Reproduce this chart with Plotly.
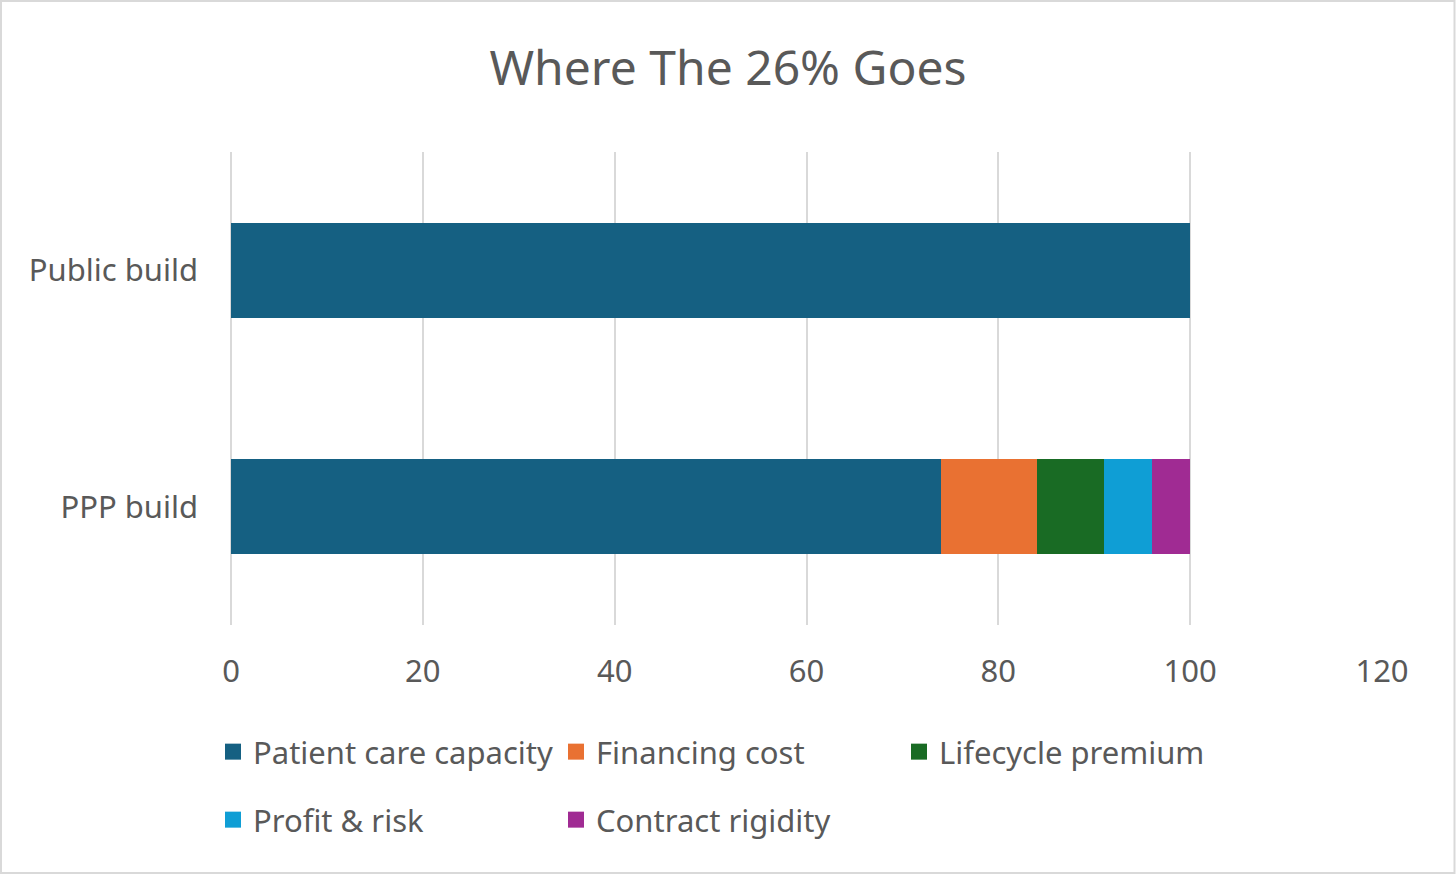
import plotly.graph_objects as go

categories = ["Public build", "PPP build"]
series_names = ["Patient care capacity", "Financing cost", "Lifecycle premium", "Profit & risk", "Contract rigidity"]
series_values = [
    [100, 74],
    [0, 10],
    [0, 7],
    [0, 5],
    [0, 4],
]
colors = ["#156082", "#E97132", "#196B24", "#0F9ED5", "#A02B93"]
x_ticks = [0, 20, 40, 60, 80, 100, 120]

W, H = 1456, 875
ML, MR, MT, MB = 231, 74, 152, 250
PW, PH = W - ML - MR, H - MT - MB

def px_x(p):
    return (p - ML) / PW

def px_y(p):
    return (H - MB - p) / PH

FONT = "Noto Sans"
TXT = "#595959"
FS = 31

fig = go.Figure()
for i, (name, vals) in enumerate(zip(series_names, series_values)):
    fig.add_trace(go.Bar(
        y=categories, x=vals, name=name, orientation="h",
        marker=dict(color=colors[i], line=dict(width=0)),
        legendgroup=name, showlegend=False,
        hoverinfo="x+name",
    ))
# legend entries (square swatches)
for i, name in enumerate(series_names):
    fig.add_trace(go.Scatter(
        x=[None], y=[None], mode="markers", name=name,
        marker=dict(symbol="square", size=16, color=colors[i]),
        legendgroup=name, showlegend=True,
        legend="legend" if i < 3 else "legend2",
    ))

fig.update_layout(
    width=W, height=H,
    margin=dict(l=ML, r=MR, t=MT, b=MB, autoexpand=False),
    barmode="stack", bargap=0.6,
    paper_bgcolor="white", plot_bgcolor="white",
    font=dict(family=FONT, color=TXT, size=FS),
    title=dict(text="Where The 26% Goes", x=0.5, xanchor="center",
               xref="container", y=1 - 68 / H, yanchor="middle", yref="container",
               font=dict(size=48, color=TXT, family=FONT)),
    xaxis=dict(range=[0, 120], tickvals=x_ticks, showgrid=True, gridcolor="#D9D9D9",
               gridwidth=2, zeroline=True, zerolinecolor="#D9D9D9", zerolinewidth=2,
               showline=False, ticks="", ticklabelstandoff=25,
               tickfont=dict(size=FS, color=TXT)),
    yaxis=dict(autorange="reversed", showgrid=False, zeroline=False, showline=False,
               ticks="", ticklabelstandoff=32, tickfont=dict(size=FS, color=TXT)),
    legend=dict(orientation="h", x=px_x(213), xanchor="left", y=px_y(752), yanchor="middle",
                entrywidth=298, entrywidthmode="pixels", font=dict(size=FS, color=TXT),
                bgcolor="rgba(0,0,0,0)", traceorder="normal", itemsizing="trace"),
    legend2=dict(orientation="h", x=px_x(213), xanchor="left", y=px_y(820), yanchor="middle",
                 entrywidth=298, entrywidthmode="pixels", font=dict(size=FS, color=TXT),
                 bgcolor="rgba(0,0,0,0)", traceorder="normal", itemsizing="trace"),
    shapes=[dict(type="rect", xref="paper", yref="paper",
                 x0=px_x(1), x1=px_x(1454.5), y0=px_y(873), y1=px_y(1),
                 line=dict(color="#D9D9D9", width=2), fillcolor="rgba(0,0,0,0)", layer="below")],
)

fig.write_html("out.html", config={"displayModeBar": False},
               post_script="document.body.style.margin='0';")
